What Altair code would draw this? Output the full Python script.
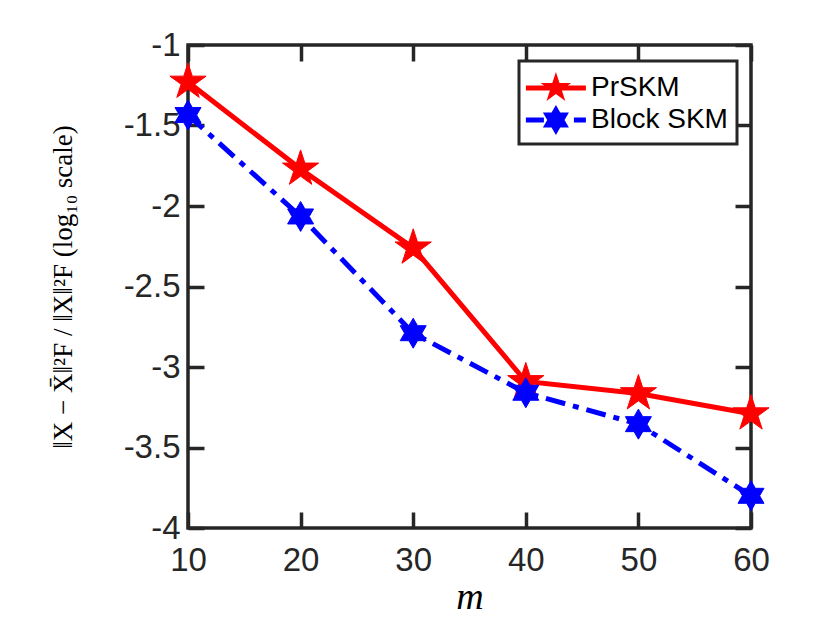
import altair as alt
import pandas as pd

# ---- data ----
m_values = [10, 20, 30, 40, 50, 60]
prskm = [-1.23, -1.77, -2.26, -3.09, -3.165, -3.29]
block_skm = [-1.435, -2.065, -2.79, -3.16, -3.355, -3.80]
series_names = ["PrSKM", "Block SKM"]
series_colors = ["#ff0000", "#0000ff"]
x_ticks = [10, 20, 30, 40, 50, 60]
y_ticks = [-4, -3.5, -3, -2.5, -2, -1.5, -1]

df = pd.DataFrame({
    "m": m_values * 2,
    "value": prskm + block_skm,
    "series": [series_names[0]] * len(m_values) + [series_names[1]] * len(m_values),
})

AX = "#262626"
PENTA = ("M0,-1L0.2245,-0.309L0.951,-0.309L0.363,0.118L0.588,0.809L0,0.382"
         "L-0.588,0.809L-0.363,0.118L-0.951,-0.309L-0.2245,-0.309Z")
HEXA = ("M0,-1L0.2887,-0.5L0.866,-0.5L0.577,0L0.866,0.5L0.2887,0.5L0,1"
        "L-0.2887,0.5L-0.866,0.5L-0.577,0L-0.866,-0.5L-0.2887,-0.5Z")
# legend glyphs: line segment + star, shifted right so the line sits inside the box
LEG_RED = ("M-1.117,-0.139L2.217,-0.139L2.217,0.139L-1.117,0.139Z"
           "M0.55,-0.889L0.75,-0.275L1.395,-0.275L0.873,0.105L1.073,0.719L0.55,0.34"
           "L0.027,0.719L0.227,0.105L-0.295,-0.275L0.35,-0.275Z")
LEG_BLUE = ("M-1.117,-0.139L-0.117,-0.139L-0.117,0.139L-1.117,0.139Z"
            "M1.55,-0.139L2.217,-0.139L2.217,0.139L1.55,0.139Z"
            "M0.55,-0.833L0.7905,-0.417L1.272,-0.417L1.031,0L1.272,0.417L0.7905,0.417"
            "L0.55,0.833L0.3095,0.417L-0.172,0.417L0.069,0L-0.172,-0.417L0.3095,-0.417Z")

xscale = alt.Scale(domain=[10, 60], nice=False, zero=False)
yscale = alt.Scale(domain=[-4, -1], nice=False, zero=False)

TICK = 16

x_bottom = alt.X("m:Q", scale=xscale, axis=alt.Axis(
    orient="bottom", values=x_ticks, offset=-TICK, tickSize=TICK, domain=False,
    grid=False, labelPadding=16, labelFlush=False, title="m",
    titleFont="Liberation Serif", titleFontStyle="italic", titleFontWeight="normal",
    titleFontSize=38, titlePadding=1, titleColor="#000000"))
y_left = alt.Y("value:Q", scale=yscale, axis=alt.Axis(
    orient="left", values=y_ticks, offset=-TICK, tickSize=TICK, domain=False,
    grid=False, labelPadding=8, labelFlush=False, labelExpr="toString(datum.value)",
    title="‖X − X̄‖²F / ‖X‖²F  (log₁₀ scale)", titleFont="Liberation Serif",
    titleFontWeight="normal", titleFontSize=27, titlePadding=46,
    titleColor="#000000"))
x_top = alt.X("m:Q", scale=xscale, axis=alt.Axis(
    orient="top", values=x_ticks, offset=-TICK, tickSize=TICK, domain=False,
    grid=False, labels=False, title=None))
y_right = alt.Y("value:Q", scale=yscale, axis=alt.Axis(
    orient="right", values=y_ticks, offset=-TICK, tickSize=TICK, domain=False,
    grid=False, labels=False, title=None))
x_none = alt.X("m:Q", scale=xscale, axis=None)
y_none = alt.Y("value:Q", scale=yscale, axis=None)

red = alt.Chart(df).transform_filter(alt.datum.series == series_names[0])
blue = alt.Chart(df).transform_filter(alt.datum.series == series_names[1])

red_line = red.mark_line(color=series_colors[0], strokeWidth=5).encode(x=x_bottom, y=y_left)
red_pts = red.mark_point(shape=PENTA, filled=True, size=1450, color=series_colors[0],
                         opacity=1, stroke=series_colors[0], strokeWidth=1).encode(x=x_none, y=y_none)
blue_line = blue.mark_line(color=series_colors[1], strokeWidth=5,
                           strokeDash=[20, 8, 6, 8]).encode(x=x_top, y=y_right)
blue_pts = blue.mark_point(shape=HEXA, filled=True, size=900, color=series_colors[1],
                           opacity=1, stroke=series_colors[1], strokeWidth=1).encode(x=x_none, y=y_none)

leg = alt.Legend(title=None, orient="none", legendX=331, legendY=16,
                 labelExpr="datum.label + '\u00a0'")
legend_layer = alt.Chart(df).mark_point(filled=True, opacity=0).encode(
    x=x_none, y=y_none,
    color=alt.Color("series:N", scale=alt.Scale(domain=series_names, range=series_colors),
                    sort=series_names, legend=leg),
    shape=alt.Shape("series:N", scale=alt.Scale(domain=series_names, range=[LEG_RED, LEG_BLUE]),
                    sort=series_names, legend=leg),
)

chart = alt.layer(red_line, red_pts, blue_line, blue_pts, legend_layer).resolve_axis(
    x="independent", y="independent"
).properties(
    width=563, height=483,
    autosize=alt.AutoSizeParams(type="none"),
    padding={"left": 180, "top": 37, "right": 71, "bottom": 90},
    background="white",
).configure_view(
    stroke=AX, strokeWidth=3.5
).configure_axis(
    tickColor=AX, tickWidth=3.5, labelFont="Liberation Sans", labelFontSize=33,
    labelColor=AX,
).configure_legend(
    strokeColor=AX, strokeWidth=3, fillColor="white", padding=9,
    labelFont="Liberation Sans", labelFontSize=28, labelColor="#000000",
    symbolSize=1296, symbolStrokeWidth=0, symbolOpacity=1, labelOffset=27,
    rowPadding=0, cornerRadius=0,
)

chart.save("out.html", embed_options={"renderer": "svg", "actions": False})
